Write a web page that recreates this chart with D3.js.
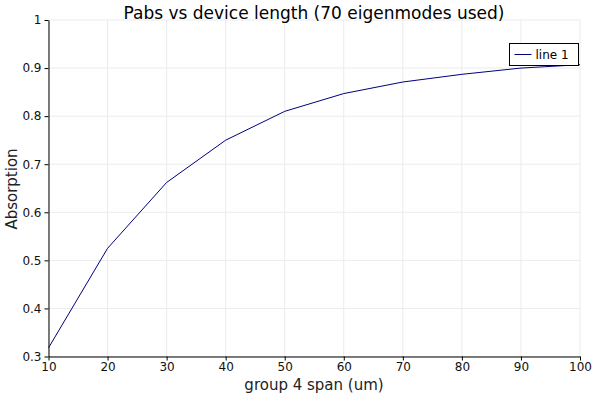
<!DOCTYPE html><html><head><script src="https://cdn.jsdelivr.net/npm/d3@7"></script>
<style>body{margin:0;background:#fff}text{font-family:"DejaVu Sans";}</style></head><body>
<svg id="c" width="600" height="400"></svg>
<script>
const xVals=[10,20,30,40,50,60,70,80,90,100];
const absorption=[0.318,0.525,0.662,0.750,0.810,0.847,0.871,0.887,0.900,0.907];
const xTicks=[10,20,30,40,50,60,70,80,90,100];
const yTicks=[0.3,0.4,0.5,0.6,0.7,0.8,0.9,1];
const svg=d3.select("#c");
const L=48.5,R=580,T=20,B=356.5;
const x=d3.scaleLinear().domain([10,100]).range([L,R]);
const y=d3.scaleLinear().domain([0.3,1]).range([B,T]);
const g=svg.append("g");
xTicks.forEach(t=>g.append("line").attr("x1",x(t)).attr("x2",x(t)).attr("y1",T).attr("y2",B).attr("stroke","#ebebeb"));
yTicks.forEach(t=>g.append("line").attr("x1",L).attr("x2",R).attr("y1",y(t)).attr("y2",y(t)).attr("stroke","#ebebeb"));
const xa=svg.append("g").attr("transform",`translate(0,${B})`).call(d3.axisBottom(x).tickValues(xTicks).tickSize(4).tickSizeOuter(0).tickFormat(d3.format("d")));
const ya=svg.append("g").attr("transform",`translate(${L},0)`).call(d3.axisLeft(y).tickValues(yTicks).tickSize(4).tickSizeOuter(0).tickFormat(d=>d===1?"1":d3.format(".1f")(d)));
[xa,ya].forEach(a=>{a.selectAll("text").attr("font-size",12).attr("fill","#111").style("font-family","DejaVu Sans");a.select(".domain").attr("stroke","#000");a.selectAll(".tick line").attr("stroke","#000");});
xa.selectAll("text").attr("dy","0.6em");
svg.append("path").datum(xVals.map((v,i)=>[v,absorption[i]])).attr("fill","none").attr("stroke","#00007f").attr("stroke-width",1)
 .attr("d",d3.line().x(d=>x(d[0])).y(d=>y(d[1])));
svg.append("text").attr("x",314).attr("y",19).attr("text-anchor","middle").attr("font-size",17).text("Pabs vs device length (70 eigenmodes used)");
svg.append("text").attr("x",314).attr("y",390).attr("text-anchor","middle").attr("font-size",15).attr("fill","#222").text("group 4 span (um)");
svg.append("text").attr("transform","translate(17,189) rotate(-90)").attr("text-anchor","middle").attr("font-size",15).attr("fill","#222").text("Absorption");
const lg=svg.append("g").attr("transform","translate(509.5,43.5)");
lg.append("rect").attr("width",69).attr("height",22).attr("fill","#fff").attr("stroke","#000");
lg.append("line").attr("x1",5).attr("x2",22).attr("y1",11).attr("y2",11).attr("stroke","#00007f");
lg.append("text").attr("x",26).attr("y",15).attr("font-size",12).text("line 1");
</script></body></html>
